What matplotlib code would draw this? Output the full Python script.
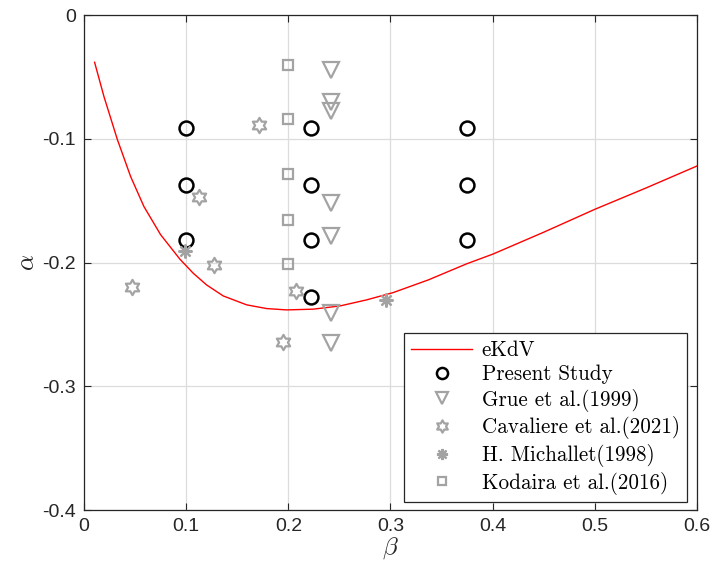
import matplotlib
matplotlib.use('Agg')
import matplotlib.pyplot as plt
from matplotlib.path import Path
from matplotlib.font_manager import FontProperties

# eKdV 曲線 (讀圖取點)
ekdv_beta = [0.0104, 0.0196, 0.0326, 0.0457, 0.0587, 0.075, 0.0939, 0.107,
             0.120, 0.1363, 0.1592, 0.1787, 0.1983, 0.2244, 0.2505, 0.2766,
             0.3026, 0.3372, 0.3744, 0.4005, 0.45, 0.5, 0.55, 0.6]
ekdv_alpha = [-0.0382, -0.066, -0.1004, -0.1306, -0.1548, -0.1775, -0.1973, -0.2087,
              -0.2181, -0.2270, -0.2342, -0.2372, -0.2383, -0.2377, -0.2351, -0.2302,
              -0.2243, -0.2140, -0.2011, -0.1931, -0.1755, -0.157, -0.1398, -0.122]

# Present Study
present_beta = [0.1, 0.1, 0.1, 0.222, 0.222, 0.222, 0.222, 0.375, 0.375, 0.375]
present_alpha = [-0.0915, -0.137, -0.182, -0.0915, -0.137, -0.182, -0.2275,
                 -0.0915, -0.137, -0.182]

# Grue et al.(1999)
grue_beta = [0.242, 0.242, 0.242, 0.242, 0.242, 0.242, 0.242]
grue_alpha = [-0.0444, -0.070, -0.0775, -0.152, -0.1785, -0.241, -0.2647]

# Cavaliere et al.(2021)
cav_beta = [0.1713, 0.1125, 0.1275, 0.0467, 0.2074, 0.1944]
cav_alpha = [-0.0891, -0.1468, -0.2019, -0.2200, -0.2229, -0.2639]

# H. Michallet(1998)
mich_beta = [0.0991, 0.2955]
mich_alpha = [-0.1904, -0.2302]

# Kodaira et al.(2016)
kod_beta = [0.2, 0.2, 0.2, 0.2, 0.2]
kod_alpha = [-0.0404, -0.084, -0.1284, -0.1656, -0.2014]

grey = '#a3a3a3'
plt.rcParams['font.family'] = ['Liberation Sans', 'DejaVu Sans']
plt.rcParams['mathtext.fontset'] = 'cm'

fig = plt.figure(figsize=(7.14, 5.71), dpi=100)
ax = fig.add_axes([0.1176, 0.1068, 0.8586, 0.8669])

hexagram = Path.unit_regular_star(6, innerCircle=0.577)

ax.plot(ekdv_beta, ekdv_alpha, color='red', lw=1.0, label='eKdV')
ax.plot(present_beta, present_alpha, 'o', ms=10, mfc='none', mec='black',
        mew=1.8, label='Present Study')
ax.plot(grue_beta, grue_alpha, 'v', ms=11.5, mfc='none', mec=grey,
        mew=1.6, label='Grue et al.(1999)')
ax.plot(cav_beta, cav_alpha, ls='none', marker=hexagram, ms=11, mfc='none',
        mec=grey, mew=1.6, label='Cavaliere et al.(2021)')
ax.plot(mich_beta, mich_alpha, ls='none', marker=(8, 2, 0), ms=10,
        mec=grey, mew=1.6, label='H. Michallet(1998)')
ax.plot(kod_beta, kod_alpha, 's', ms=7.7, mfc='none', mec=grey,
        mew=1.6, label='Kodaira et al.(2016)')

ax.set_xlim(0, 0.6)
ax.set_ylim(-0.4, 0)
ax.set_xticks([0, 0.1, 0.2, 0.3, 0.4, 0.5, 0.6])
ax.set_xticklabels(['0', '0.1', '0.2', '0.3', '0.4', '0.5', '0.6'])
ax.set_yticks([-0.4, -0.3, -0.2, -0.1, 0])
ax.set_yticklabels(['-0.4', '-0.3', '-0.2', '-0.1', '0'])
ax.grid(True, color='#dcdcdc', lw=0.9)
ax.set_axisbelow(True)
ax.tick_params(direction='in', length=5, labelsize=14, colors='#262626',
               top=True, right=True, pad=6)
for s in ax.spines.values():
    s.set_color('#262626')
    s.set_linewidth(0.9)

ax.set_xlabel(r'$\beta$', fontsize=18, color='#262626', labelpad=0)
ax.set_ylabel(r'$\alpha$', fontsize=18, color='#262626', labelpad=2)

leg_font = FontProperties(family='cmr10', size=15.2)
leg = ax.legend(loc='lower right', bbox_to_anchor=(0.984, 0.016),
                prop=leg_font, frameon=True, fancybox=False,
                edgecolor='#262626', framealpha=1, borderpad=0.35,
                labelspacing=0.22, handlelength=2.9, handletextpad=0.45,
                borderaxespad=0, markerscale=0.8)
leg.get_frame().set_linewidth(0.9)

fig.savefig('out.png', dpi=100)
